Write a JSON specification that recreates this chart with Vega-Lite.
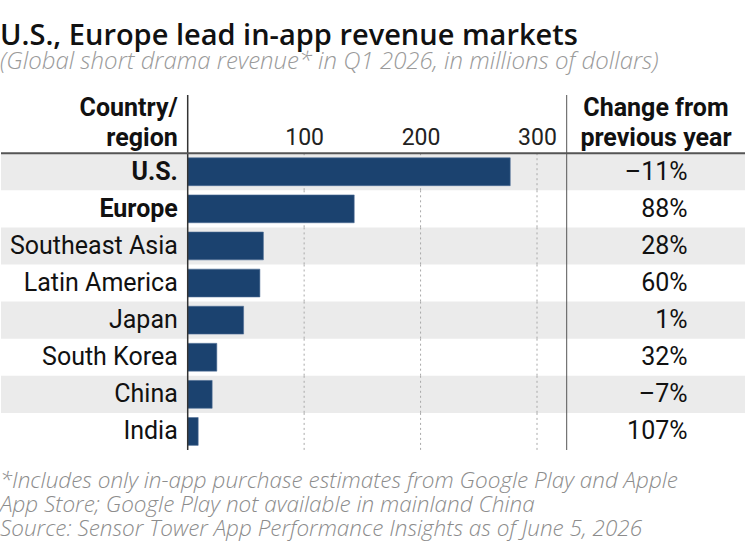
{
  "$schema": "https://vega.github.io/schema/vega-lite/v6.json",
  "background": "white",
  "padding": {"left": 0, "right": 0, "top": 21, "bottom": 0},
  "config": {"font": "Roboto", "view": {"stroke": null}},
  "title": {
    "text": "U.S., Europe lead in-app revenue markets",
    "subtitle": "(Global short drama revenue* in Q1 2026, in millions of dollars)",
    "anchor": "start",
    "font": "Open Sans",
    "fontSize": 29,
    "fontWeight": 600,
    "color": "#111111",
    "subtitleFont": "Open Sans",
    "subtitleFontSize": 24,
    "subtitleFontStyle": "italic",
    "subtitleFontWeight": 300,
    "subtitleColor": "#9a9a9a",
    "subtitlePadding": -1,
    "offset": 20.5
  },
  "spacing": 0,
  "vconcat": [
    {
      "width": 745,
      "height": 355,
      "title": {
        "text": [
          "*Includes only in-app purchase estimates from Google Play and Apple",
          "App Store; Google Play not available in mainland China",
          "Source: Sensor Tower App Performance Insights as of June 5, 2026"
        ],
        "orient": "bottom",
        "anchor": "start",
        "font": "Open Sans",
        "fontSize": 22.5,
        "fontStyle": "italic",
        "fontWeight": 300,
        "color": "#8c8c8c",
        "lineHeight": 24,
        "offset": 19.5
      },
      "data": {
        "values": [
          {"region": "U.S.", "revenue": 277, "change": -11},
          {"region": "Europe", "revenue": 143, "change": 88},
          {"region": "Southeast Asia", "revenue": 65, "change": 28},
          {"region": "Latin America", "revenue": 62, "change": 60},
          {"region": "Japan", "revenue": 48, "change": 1},
          {"region": "South Korea", "revenue": 25, "change": 32},
          {"region": "China", "revenue": 21, "change": -7},
          {"region": "India", "revenue": 9, "change": 107}
        ]
      },
      "encoding": {
        "y": {
          "field": "region",
          "type": "nominal",
          "sort": null,
          "axis": null,
          "scale": {
            "domain": ["header", "U.S.", "Europe", "Southeast Asia", "Latin America", "Japan", "South Korea", "China", "India"],
            "paddingInner": 0,
            "paddingOuter": 0.2844,
            "align": 1
          }
        }
      },
      "layer": [
        {
          "transform": [{"filter": {"field": "region", "oneOf": ["U.S.", "Southeast Asia", "Japan", "China"]}}],
          "mark": {"type": "rect", "color": "#ebebeb"},
          "encoding": {}
        },
        {
          "mark": {"type": "rule", "color": "#a8a8a8", "strokeWidth": 1, "strokeDash": [2, 3]},
          "encoding": {
            "x": {"datum": 100, "type": "quantitative"},
            "y": {"field": "region", "type": "nominal", "bandPosition": 0},
            "y2": {"field": "region", "bandPosition": 1}
          }
        },
        {
          "mark": {"type": "rule", "color": "#a8a8a8", "strokeWidth": 1, "strokeDash": [2, 3]},
          "encoding": {
            "x": {"datum": 200, "type": "quantitative"},
            "y": {"field": "region", "type": "nominal", "bandPosition": 0},
            "y2": {"field": "region", "bandPosition": 1}
          }
        },
        {
          "mark": {"type": "rule", "color": "#a8a8a8", "strokeWidth": 1, "strokeDash": [2, 3]},
          "encoding": {
            "x": {"datum": 300, "type": "quantitative"},
            "y": {"field": "region", "type": "nominal", "bandPosition": 0},
            "y2": {"field": "region", "bandPosition": 1}
          }
        },
        {
          "mark": {"type": "bar", "color": "#1b426f", "stroke": "#4d6d96", "strokeWidth": 0.6, "height": {"band": 0.75}},
          "encoding": {
            "x": {
              "field": "revenue",
              "type": "quantitative",
              "scale": {"domain": [-160.35, 479.5], "nice": false, "zero": false},
              "axis": {
                "orient": "top",
                "values": [100, 200, 300],
                "domain": false,
                "ticks": false,
                "tickSize": 0,
                "grid": false,
                "title": null,
                "labelPadding": -42,
                "labelBaseline": "middle",
                "labelFont": "Roboto",
                "labelFontSize": 23,
                "labelColor": "#222222"
              }
            }
          }
        },
        {
          "data": {"values": [{}]},
          "mark": {"type": "rule", "color": "#333333", "strokeWidth": 1.5},
          "encoding": {"x": {"datum": 0, "type": "quantitative"}, "y": null}
        },
        {
          "data": {"values": [{}]},
          "mark": {"type": "rule", "color": "#555555", "strokeWidth": 1},
          "encoding": {"x": {"datum": 325.5, "type": "quantitative"}, "y": null}
        },
        {
          "data": {"values": [{}]},
          "mark": {"type": "rule", "color": "#555555", "strokeWidth": 2},
          "encoding": {"y": {"datum": "U.S.", "bandPosition": 0}}
        },
        {
          "transform": [{"filter": {"field": "region", "oneOf": ["U.S.", "Europe"]}}],
          "mark": {"type": "text", "align": "right", "baseline": "middle", "fontSize": 25, "fontWeight": "bold", "color": "#111111"},
          "encoding": {"x": {"datum": -8.5, "type": "quantitative"}, "text": {"field": "region"}}
        },
        {
          "transform": [{"filter": {"not": {"field": "region", "oneOf": ["U.S.", "Europe"]}}}],
          "mark": {"type": "text", "align": "right", "baseline": "middle", "fontSize": 25, "fontWeight": "normal", "color": "#111111"},
          "encoding": {"x": {"datum": -8.5, "type": "quantitative"}, "text": {"field": "region"}}
        },
        {
          "transform": [{"calculate": "(datum.change < 0 ? '–' : '') + abs(datum.change) + '%'", "as": "change_label"}],
          "mark": {"type": "text", "align": "right", "baseline": "middle", "fontSize": 25, "color": "#111111"},
          "encoding": {"x": {"datum": 429.3, "type": "quantitative"}, "text": {"field": "change_label"}}
        },
        {
          "data": {"values": [{}]},
          "mark": {"type": "text", "text": ["Country/", "region"], "align": "right", "baseline": "middle", "dy": -27, "lineHeight": 30, "fontSize": 25, "fontWeight": "bold", "color": "#111111"},
          "encoding": {"x": {"datum": -8.5, "type": "quantitative"}, "y": {"datum": "header"}}
        },
        {
          "data": {"values": [{}]},
          "mark": {"type": "text", "text": ["Change from", "previous year"], "align": "center", "baseline": "middle", "dy": -27, "lineHeight": 30, "fontSize": 25, "fontWeight": "bold", "color": "#111111"},
          "encoding": {"x": {"datum": 402.2, "type": "quantitative"}, "y": {"datum": "header"}}
        }
      ]
    }
  ]
}
